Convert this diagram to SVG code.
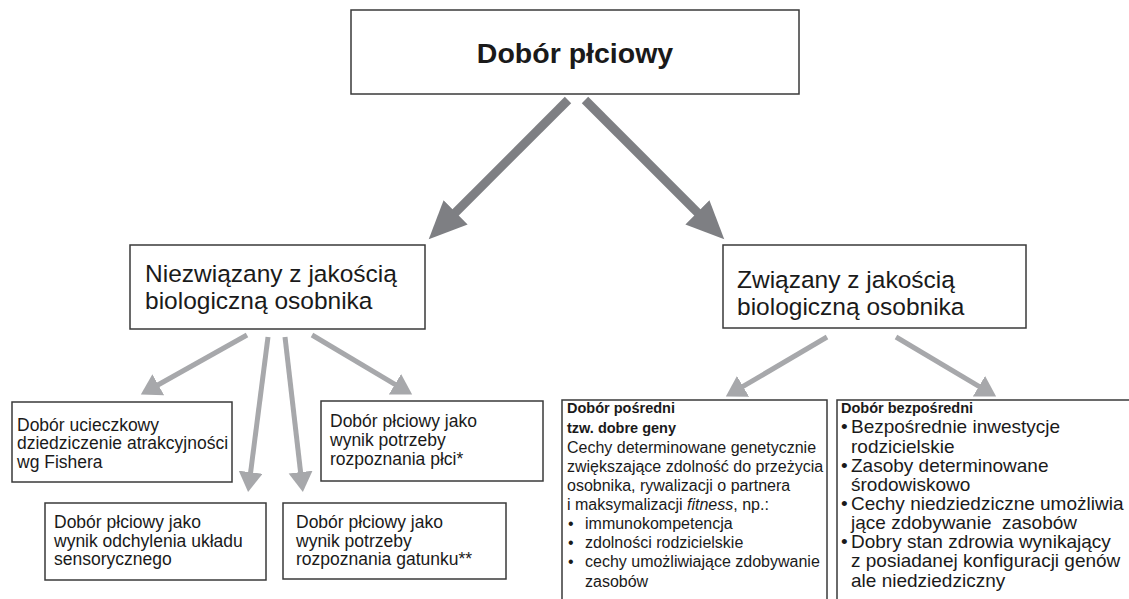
<svg xmlns="http://www.w3.org/2000/svg" width="1129" height="599" viewBox="0 0 1129 599">
<style>
  .box { fill: #ffffff; stroke: #3a3a3a; stroke-width: 1.5; }
  .t { font-family: "Liberation Sans", Arial, sans-serif; fill: #1a1a1a; }
  .title { font-size: 28.5px; font-weight: bold; }
  .mid { font-size: 24.5px; }
  .small { font-size: 17.5px; }
  .e { font-size: 16px; }
  .f { font-size: 19px; }
  .hd { font-size: 14.5px; font-weight: bold; }
  .big { stroke: #7e7f83; stroke-width: 9; fill: none; }
  .light { stroke: #a7a8ab; stroke-width: 5; fill: none; }
</style>
<defs>
  <marker id="bigHead" markerUnits="userSpaceOnUse" markerWidth="40" markerHeight="36" refX="1" refY="17" orient="auto">
    <path d="M0,0 L38,17 L0,34 Z" fill="#7e7f83"/>
  </marker>
  <marker id="lightHead" markerUnits="userSpaceOnUse" markerWidth="22" markerHeight="26" refX="1" refY="12" orient="auto">
    <path d="M0,0 L20,12 L0,24 Z" fill="#a7a8ab"/>
  </marker>
</defs>
<rect width="1129" height="599" fill="#ffffff"/>

<g id="connectors">
  <line class="big" x1="568" y1="100" x2="454.9" y2="213.1" marker-end="url(#bigHead)"/>
  <line class="big" x1="585" y1="100" x2="698.1" y2="213.1" marker-end="url(#bigHead)"/>
  <line class="light" x1="247" y1="335" x2="157.4" y2="385.2" marker-end="url(#lightHead)"/>
  <line class="light" x1="268" y1="337" x2="250.5" y2="473.2" marker-end="url(#lightHead)"/>
  <line class="light" x1="285" y1="337" x2="300.7" y2="473.1" marker-end="url(#lightHead)"/>
  <line class="light" x1="312" y1="335" x2="395.8" y2="384.8" marker-end="url(#lightHead)"/>
  <line class="light" x1="827" y1="337" x2="742.2" y2="386.9" marker-end="url(#lightHead)"/>
  <line class="light" x1="896" y1="337" x2="979.8" y2="386.8" marker-end="url(#lightHead)"/>
</g>

<g id="node-root">
  <rect class="box" x="351" y="10" width="448" height="84"/>
  <text class="t title" x="575" y="63" text-anchor="middle">Dobór płciowy</text>
</g>

<g id="node-niezwiazany">
  <rect class="box" x="130" y="245" width="295" height="84"/>
  <text class="t mid" x="145" y="282">Niezwiązany z jakością</text>
  <text class="t mid" x="145" y="309">biologiczną osobnika</text>
</g>

<g id="node-zwiazany">
  <rect class="box" x="723" y="245" width="303" height="83"/>
  <text class="t mid" x="737" y="288">Związany z jakością</text>
  <text class="t mid" x="737" y="315">biologiczną osobnika</text>
</g>

<g id="node-ucieczkowy">
  <rect class="box" x="12" y="402" width="220" height="80"/>
  <text class="t small" x="17" y="431">Dobór ucieczkowy</text>
  <text class="t small" x="17" y="449">dziedziczenie atrakcyjności</text>
  <text class="t small" x="17" y="468">wg Fishera</text>
</g>

<g id="node-odchylenie">
  <rect class="box" x="45" y="503" width="221" height="77"/>
  <text class="t small" x="54" y="528">Dobór płciowy jako</text>
  <text class="t small" x="54" y="547">wynik odchylenia układu</text>
  <text class="t small" x="54" y="565">sensorycznego</text>
</g>

<g id="node-gatunek">
  <rect class="box" x="283" y="503" width="223" height="76"/>
  <text class="t small" x="296" y="528">Dobór płciowy jako</text>
  <text class="t small" x="296" y="547">wynik potrzeby</text>
  <text class="t small" x="296" y="565">rozpoznania gatunku**</text>
</g>

<g id="node-plec">
  <rect class="box" x="321" y="401" width="222" height="80"/>
  <text class="t small" x="330" y="427">Dobór płciowy jako</text>
  <text class="t small" x="330" y="446">wynik potrzeby</text>
  <text class="t small" x="330" y="465">rozpoznania płci*</text>
</g>

<g id="node-posredni">
  <rect class="box" x="562" y="400" width="265" height="215"/>
  <text class="t hd" x="567" y="413">Dobór pośredni</text>
  <text class="t hd" x="567" y="433">tzw. dobre geny</text>
  <text class="t e" x="567" y="453">Cechy determinowane genetycznie</text>
  <text class="t e" x="567" y="472">zwiększające zdolność do przeżycia</text>
  <text class="t e" x="567" y="491">osobnika, rywalizacji o partnera</text>
  <text class="t e" x="567" y="510">i maksymalizacji <tspan font-style="italic">fitness</tspan>, np.:</text>
  <text class="t e" x="568" y="529">•</text>
  <text class="t e" x="585" y="529">immunokompetencja</text>
  <text class="t e" x="568" y="548">•</text>
  <text class="t e" x="585" y="548">zdolności rodzicielskie</text>
  <text class="t e" x="568" y="567">•</text>
  <text class="t e" x="585" y="567">cechy umożliwiające zdobywanie</text>
  <text class="t e" x="585" y="587">zasobów</text>
</g>

<g id="node-bezposredni">
  <rect class="box" x="837" y="400" width="310" height="215"/>
  <text class="t hd" x="841" y="413">Dobór bezpośredni</text>
  <text class="t f" x="841" y="433">•</text>
  <text class="t f" x="851" y="433">Bezpośrednie inwestycje</text>
  <text class="t f" x="851" y="453">rodzicielskie</text>
  <text class="t f" x="841" y="472">•</text>
  <text class="t f" x="851" y="472">Zasoby determinowane</text>
  <text class="t f" x="851" y="491">środowiskowo</text>
  <text class="t f" x="841" y="510">•</text>
  <text class="t f" x="851" y="510">Cechy niedziedziczne umożliwia</text>
  <text class="t f" x="851" y="529" xml:space="preserve">jące zdobywanie  zasobów</text>
  <text class="t f" x="841" y="548">•</text>
  <text class="t f" x="851" y="548">Dobry stan zdrowia wynikający</text>
  <text class="t f" x="851" y="567">z posiadanej konfiguracji genów</text>
  <text class="t f" x="851" y="587">ale niedziedziczny</text>
</g>
</svg>
